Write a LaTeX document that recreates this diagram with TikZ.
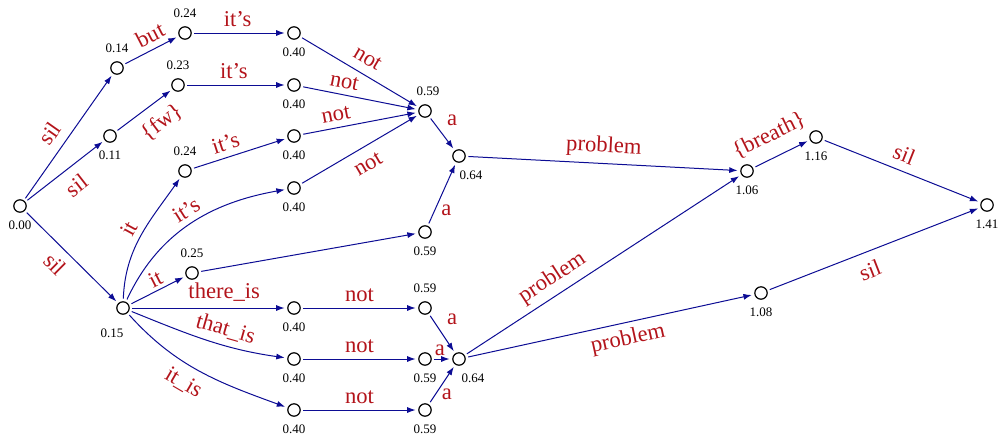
\documentclass[tikz,border=0pt]{standalone}
\usepackage{fontspec}
\setmainfont{Liberation Serif}
\usepackage{tikz}
\usetikzlibrary{arrows.meta}
\definecolor{arcblue}{HTML}{0C0C94}
\definecolor{word}{HTML}{B3141B}

\begin{document}
\begin{tikzpicture}[x=0.5pt,y=-0.5pt,
  lat/.style={circle,draw,line width=0.6pt,inner sep=0pt,minimum size=6.2pt},
  every label/.style={font=\fontsize{6.5}{7}\selectfont,inner sep=0.5pt},
  label distance=3.4pt,
  hop/.style={draw=arcblue,line width=0.5pt,-{Latex[length=4.2pt,width=3pt]},
              shorten >=1.3pt,shorten <=1.3pt},
  wd/.style={text=word,font=\fontsize{11.3}{13}\selectfont,inner sep=3pt}]
  \useasboundingbox (0,0) rectangle (1000,434);
  % lattice nodes, labelled with their end times
  \node[lat,label=below:0.00] (s000) at (20,206) {};
  \node[lat,label=above:0.14] (s014) at (117,68) {};
  \node[lat,label=below:0.11] (s011) at (110,136) {};
  \node[lat,label=above:0.24] (s024a) at (185,33) {};
  \node[lat,label=above:0.23] (s023) at (178,85) {};
  \node[lat,label=above:0.24] (s024b) at (185,171) {};
  \node[lat,label={[xshift=-5.5pt,yshift=-3pt]below:0.15}] (s015) at (123,308) {};
  \node[lat,label=above:0.25] (s025) at (192,273) {};
  \node[lat,label=below:0.40] (s040a) at (294,33) {};
  \node[lat,label=below:0.40] (s040b) at (294,85) {};
  \node[lat,label=below:0.40] (s040c) at (294,136) {};
  \node[lat,label=below:0.40] (s040d) at (294,188) {};
  \node[lat,label=below:0.40] (s040e) at (294,308) {};
  \node[lat,label=below:0.40] (s040f) at (294,359) {};
  \node[lat,label=below:0.40] (s040g) at (294,410) {};
  \node[lat,label={[xshift=1.5pt]above:0.59}] (s059a) at (425,111) {};
  \node[lat,label={[xshift=6pt]below:0.64}] (s064a) at (459,156) {};
  \node[lat,label=below:0.59] (s059b) at (425,232) {};
  \node[lat,label=above:0.59] (s059c) at (425,308) {};
  \node[lat,label=below:0.59] (s059d) at (425,359) {};
  \node[lat,label={[xshift=7pt]below:0.64}] (s064b) at (459,359) {};
  \node[lat,label=below:0.59] (s059e) at (425,410) {};
  \node[lat,label=below:1.06] (s106) at (747,171) {};
  \node[lat,label=below:1.16] (s116) at (816,137) {};
  \node[lat,label=below:1.08] (s108) at (761,293) {};
  \node[lat,label=below:1.41] (s141) at (987,205) {};

  % word arcs
  \draw[hop] (s000) -- node[wd,sloped,above,pos=.45,inner sep=4.5pt] {sil} (s014);
  \draw[hop] (s000) -- node[wd,sloped,below,pos=.5,inner sep=5pt] {sil} (s011);
  \draw[hop] (s000) -- node[wd,sloped,below,pos=.45,inner sep=4pt] {sil} (s015);
  \draw[hop] (s014) -- node[wd,sloped,above,pos=.6] {but} (s024a);
  \draw[hop] (s011) -- node[wd,sloped,below,pos=.6,inner sep=5pt] {\{fw\}} (s023);
  \draw[hop] (s024a) -- node[wd,above,pos=.48] {it's} (s040a);
  \draw[hop] (s023) -- node[wd,above,pos=.48] {it's} (s040b);
  \draw[hop] (s024b) -- node[wd,sloped,above,pos=.4] {it's} (s040c);
  \draw[hop] (s015) to[out=88,in=235] node[wd,sloped,above,pos=.5] {it} (s024b);
  \draw[hop] (s015) to[out=65,in=190] node[wd,sloped,above,pos=.52] {it's} (s040d);
  \draw[hop] (s015) -- node[wd,sloped,above,pos=.55,inner sep=1.5pt] {it} (s025);
  \draw[hop] (s015) -- node[wd,above,pos=.6] {there\_is} (s040e);
  \draw[hop] (s015) to[out=-22,in=172] node[wd,sloped,above,pos=.6] {that\_is} (s040f);
  \draw[hop] (s015) to[out=-48,in=160] node[wd,sloped,below,pos=.45,inner sep=4.5pt] {it\_is} (s040g);
  \draw[hop] (s040a) -- node[wd,sloped,above,pos=.5,inner sep=4.5pt] {not} (s059a);
  \draw[hop] (s040b) -- node[wd,sloped,above,pos=.35] {not} (s059a);
  \draw[hop] (s040c) -- node[wd,sloped,above,pos=.32] {not} (s059a);
  \draw[hop] (s040d) -- node[wd,sloped,below,pos=.5,inner sep=5pt] {not} (s059a);
  \draw[hop] (s025) -- (s059b);
  \draw[hop] (s059a) -- node[wd,above right,pos=.45] {a} (s064a);
  \draw[hop] (s059b) -- node[wd,right,pos=.25] {a} (s064a);
  \draw[hop] (s040e) -- node[wd,above] {not} (s059c);
  \draw[hop] (s040f) -- node[wd,above] {not} (s059d);
  \draw[hop] (s040g) -- node[wd,above] {not} (s059e);
  \draw[hop] (s059c) -- node[wd,above right,pos=.45] {a} (s064b);
  \draw[hop] (s059d) -- node[wd,above,pos=.4,inner sep=1.5pt] {a} (s064b);
  \draw[hop] (s059e) -- node[wd,right,pos=.25] {a} (s064b);
  \draw[hop] (s064a) -- node[wd,sloped,above,pos=.5] {problem} (s106);
  \draw[hop] (s064b) -- node[wd,sloped,above,pos=.35] {problem} (s106);
  \draw[hop] (s064b) -- node[wd,sloped,below,pos=.55] {problem} (s108);
  \draw[hop] (s106) -- node[wd,sloped,above,pos=.45,inner sep=6pt] {\{breath\}} (s116);
  \draw[hop] (s116) -- node[wd,sloped,above,pos=.48,inner sep=4pt] {sil} (s141);
  \draw[hop] (s108) -- node[wd,sloped,below,pos=.45,inner sep=5pt] {sil} (s141);
\end{tikzpicture}
\end{document}
